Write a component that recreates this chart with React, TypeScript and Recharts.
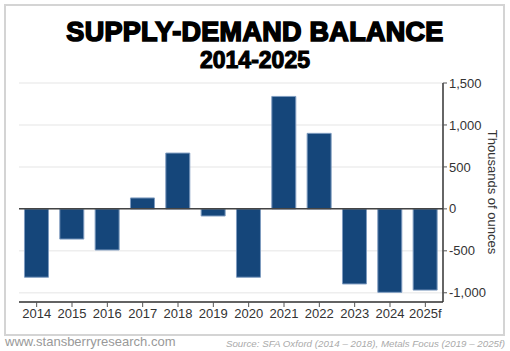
import React from 'react';
import {
    BarChart, Bar, XAxis, YAxis, CartesianGrid, ReferenceLine,
} from 'recharts';

const years = ['2014', '2015', '2016', '2017', '2018', '2019', '2020', '2021', '2022', '2023', '2024', '2025f'];
const balance = [-815, -360, -490, 130, 665, -85, -815, 1340, 900, -895, -995, -968];
const yTicks = [-1000, -500, 0, 500, 1000, 1500];

const data = years.map((year, i) => ({ year, balance: balance[i] }));

const fmt = (v: number) => v.toLocaleString('en-US');

export default function App() {
    return (
        <div style={{ position: 'absolute', left: 0, top: 0, width: 510, height: 351, background: '#fff', fontFamily: '"Liberation Sans", Arial, sans-serif' }}>
            <div style={{ position: 'absolute', left: 4, top: 4, width: 497, height: 328, border: '2px solid #d4d4d4' }} />
            <div style={{ position: 'absolute', left: 0, top: 17, width: 510, textAlign: 'center', fontSize: 27, fontWeight: 900, color: '#000', WebkitTextStroke: '1.6px #000', letterSpacing: 0.3 }}>
                SUPPLY-DEMAND BALANCE
            </div>
            <div style={{ position: 'absolute', left: 0, top: 47, width: 510, textAlign: 'center', fontSize: 23, fontWeight: 900, color: '#000', WebkitTextStroke: '1.1px #000' }}>
                2014-2025
            </div>

            <div style={{ position: 'absolute', left: 0, top: 0 }}>
                <BarChart width={510} height={351} data={data} margin={{ top: 83, right: 7, bottom: 19, left: 19 }} barCategoryGap="15.5%">
                    <CartesianGrid vertical={false} stroke="#eeeeee" strokeWidth={1.5} />
                    <XAxis
                        dataKey="year"
                        height={30}
                        tick={{ fill: '#333', fontSize: 13 }}
                        axisLine={{ stroke: '#333', strokeWidth: 1.5 }}
                        tickLine={{ stroke: '#555' }}
                        tickSize={5}
                        interval={0}
                    />
                    <YAxis
                        orientation="right"
                        width={60}
                        domain={[-1110, 1500]}
                        ticks={yTicks}
                        tickFormatter={fmt}
                        tick={{ fill: '#333', fontSize: 13 }}
                        axisLine={{ stroke: '#333', strokeWidth: 1.5 }}
                        tickLine={{ stroke: '#555' }}
                        tickSize={4}
                        allowDataOverflow
                    />
                    <ReferenceLine y={0} stroke="#444" strokeWidth={1.5} />
                    <Bar dataKey="balance" fill="#15467a" stroke="#7f9cc0" strokeWidth={1} isAnimationActive={false} />
                </BarChart>
            </div>

            <div style={{ position: 'absolute', left: 492, top: 192, transform: 'translate(-50%, -50%) rotate(90deg)', whiteSpace: 'nowrap', fontSize: 13, color: '#333' }}>
                Thousands of ounces
            </div>

            <div style={{ position: 'absolute', left: 5, top: 334, fontSize: 13, color: '#999' }}>
                www.stansberryresearch.com
            </div>
            <div style={{ position: 'absolute', right: 5, top: 338, fontSize: 9.75, fontStyle: 'italic', color: '#aaa' }}>
                Source: SFA Oxford (2014 – 2018), Metals Focus (2019 – 2025f)
            </div>
        </div>
    );
}
